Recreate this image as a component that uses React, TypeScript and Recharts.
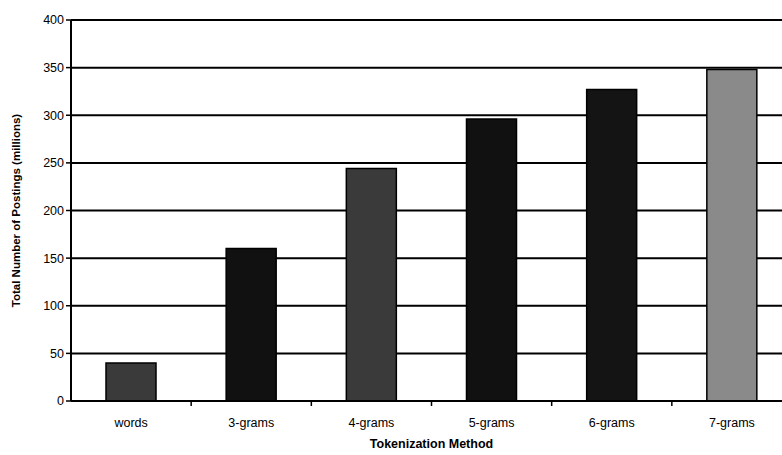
import React from 'react';
import { BarChart, Bar, XAxis, YAxis, CartesianGrid, Cell } from 'recharts';

const methods = ['words', '3-grams', '4-grams', '5-grams', '6-grams', '7-grams'];
const postings = [40, 160, 244, 296, 327, 348];
const barColors = ['#3a3a3a', '#111111', '#3a3a3a', '#111111', '#141414', '#8a8a8a'];
const yTicks = [0, 50, 100, 150, 200, 250, 300, 350, 400];

const data = methods.map((name, i) => ({ name, postings: postings[i] }));

const font = '"Liberation Sans", Arial, sans-serif';

// category ticks sit between the bars, so draw the tick mark half a band to the right
function CategoryTick(props: any) {
  const { x, y, payload } = props;
  const half = payload && payload.offset ? payload.offset : 60;
  return (
    <g>
      {payload.index < methods.length - 1 && (
        <line x1={x + half} x2={x + half} y1={y - 8} y2={y - 3} stroke="#000" strokeWidth={1.5} />
      )}
      <text x={x} y={y + 18} textAnchor="middle" fill="#000" fontSize={12.5} fontFamily={font}>
        {payload.value}
      </text>
    </g>
  );
}

export default function App() {
  return (
    <div style={{ position: 'absolute', left: 0, top: 0, width: 782, height: 455, overflow: 'hidden', background: '#fff' }}>
      <BarChart
        width={800}
        height={455}
        data={data}
        margin={{ top: 20, right: 8, left: 0, bottom: 14 }}
      >
        <CartesianGrid vertical={false} stroke="#000" strokeWidth={2} />
        <XAxis
          dataKey="name"
          height={40}
          axisLine={{ stroke: '#000', strokeWidth: 2 }}
          tickLine={false}
          tick={<CategoryTick />}
          interval={0}
          label={{
            value: 'Tokenization Method',
            position: 'insideBottom',
            offset: -7,
            fill: '#000',
            fontSize: 12.5,
            fontWeight: 'bold',
            fontFamily: font,
          }}
        />
        <YAxis
          width={71}
          domain={[0, 400]}
          ticks={yTicks}
          interval={0}
          axisLine={{ stroke: '#000', strokeWidth: 2 }}
          tickLine={{ stroke: '#000', strokeWidth: 1.5 }}
          tickSize={5}
          tick={{ fill: '#000', fontSize: 12.5, fontFamily: font }}
          label={{
            value: 'Total Number of Postings (millions)',
            angle: -90,
            position: 'insideLeft',
            offset: 16,
            style: { textAnchor: 'middle' },
            fill: '#000',
            fontSize: 11.5,
            fontWeight: 'bold',
            fontFamily: font,
          }}
        />
        <Bar dataKey="postings" barSize={50} stroke="#000" strokeWidth={1.5} isAnimationActive={false}>
          {data.map((d, i) => (
            <Cell key={d.name} fill={barColors[i]} />
          ))}
        </Bar>
      </BarChart>
    </div>
  );
}
